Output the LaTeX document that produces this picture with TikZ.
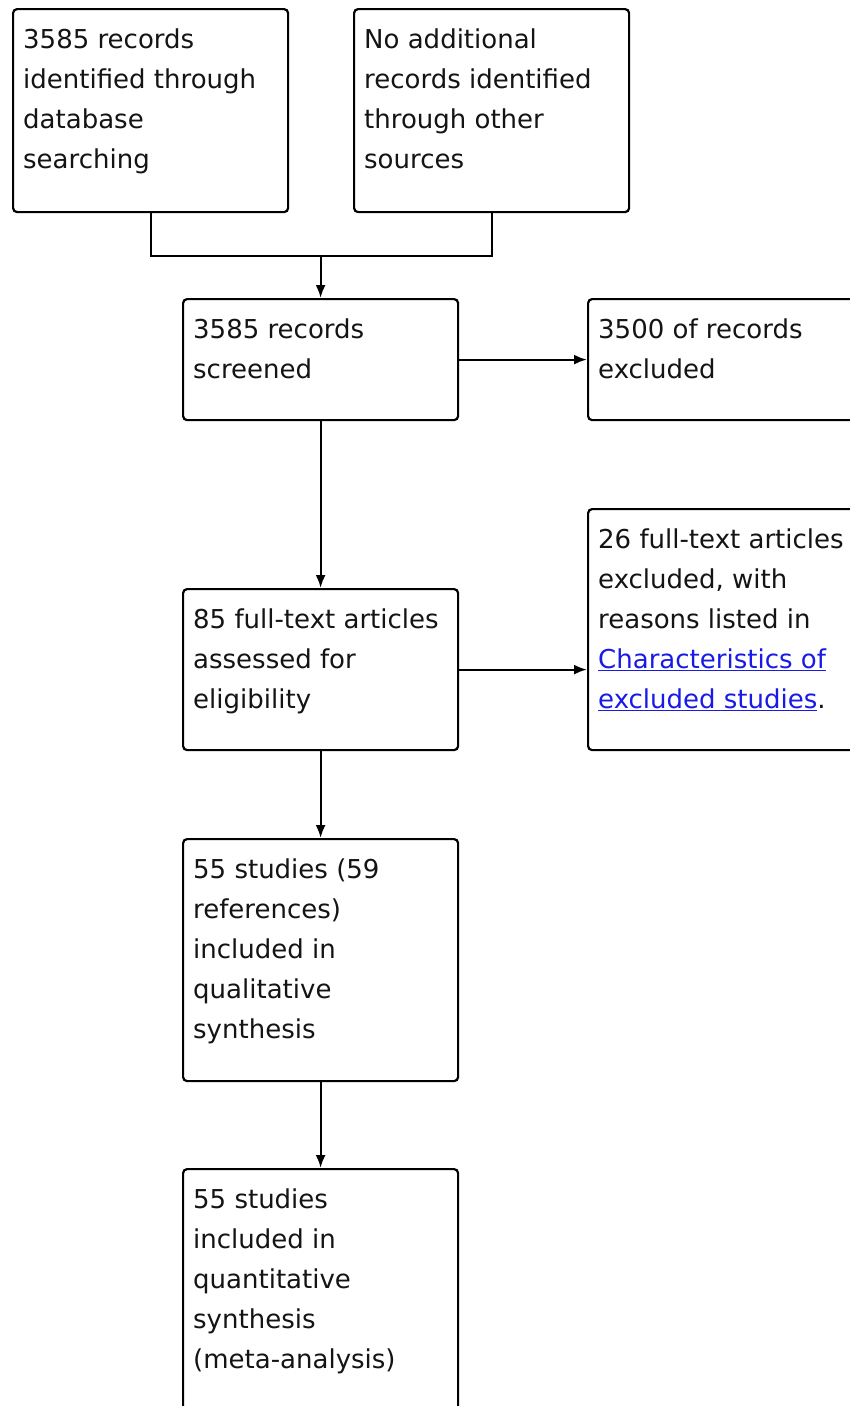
\documentclass[tikz,border=0pt]{standalone}
\usepackage{fontspec}
\setmainfont{DejaVu Sans}
\usetikzlibrary{arrows.meta,calc}
\definecolor{ink}{HTML}{141414}
\definecolor{linkblue}{HTML}{1A1AE6}
\begin{document}
\begin{tikzpicture}[x=1pt,y=-1pt,
  box/.style={draw=black, line width=2.2pt, rounded corners=4pt, fill=white, anchor=north west, inner sep=0pt},
  txt/.style={anchor=north west, inner sep=0pt, align=left, text=ink, font=\fontsize{26}{40}\selectfont},
  arr/.style={line width=2.2pt, -{Latex[length=13pt,width=10pt]}},
  con/.style={line width=2.2pt}]
\useasboundingbox (0,0) rectangle (850,1406);
\clip (0,0) rectangle (850,1406);
\fill[white] (0,0) rectangle (850,1406);
% boxes
\node[box, minimum width=275pt, minimum height=203pt] (A) at (12,8) {};
\node[box, minimum width=275pt, minimum height=203pt] (B) at (353,8) {};
\node[box, minimum width=275pt, minimum height=121pt] (C) at (182,298) {};
\node[box, minimum width=290pt, minimum height=121pt] (D) at (587,298) {};
\node[box, minimum width=275pt, minimum height=161pt] (E) at (182,588) {};
\node[box, minimum width=290pt, minimum height=241pt] (F) at (587,508) {};
\node[box, minimum width=275pt, minimum height=242pt] (G) at (182,838) {};
\node[box, minimum width=275pt, minimum height=260pt] (H) at (182,1168) {};
% texts
\node[txt] (tA) at ($(A.north west)+(11,10)$) {\rule{0pt}{30pt}3585 records\\identified through\\database\\searching};
\node[txt] (tB) at ($(B.north west)+(11,10)$) {\rule{0pt}{30pt}No additional\\records identified\\through other\\sources};
\node[txt] (tC) at ($(C.north west)+(11,10)$) {\rule{0pt}{30pt}3585 records\\screened};
\node[txt] (tD) at ($(D.north west)+(11,10)$) {\rule{0pt}{30pt}3500 of records\\excluded};
\node[txt] (tE) at ($(E.north west)+(11,10)$) {\rule{0pt}{30pt}85 full-text articles\\assessed for\\eligibility};
\node[txt] (tF) at ($(F.north west)+(11,10)$) {\rule{0pt}{30pt}26 full-text articles\\excluded, with\\reasons listed in\\{\color{linkblue}\underline{Characteristics of}}\\{\color{linkblue}\underline{excluded studies}}.};
\node[txt] (tG) at ($(G.north west)+(11,10)$) {\rule{0pt}{30pt}55 studies (59\\references)\\included in\\qualitative\\synthesis};
\node[txt] (tH) at ($(H.north west)+(11,10)$) {\rule{0pt}{30pt}55 studies\\included in\\quantitative\\synthesis\\(meta-analysis)};
% connectors
\coordinate (j) at ($(C.north)+(0,-42)$);
\draw[con] (A.south) |- (j) -| (B.south);
\draw[arr] (j) -- (C.north);
\draw[arr] (C.east) -- (C.east -| D.west);
\draw[arr] (C.south) -- (E.north);
\draw[arr] (E.east) -- (E.east -| F.west);
\draw[arr] (E.south) -- (G.north);
\draw[arr] (G.south) -- (H.north);
\end{tikzpicture}
\end{document}
